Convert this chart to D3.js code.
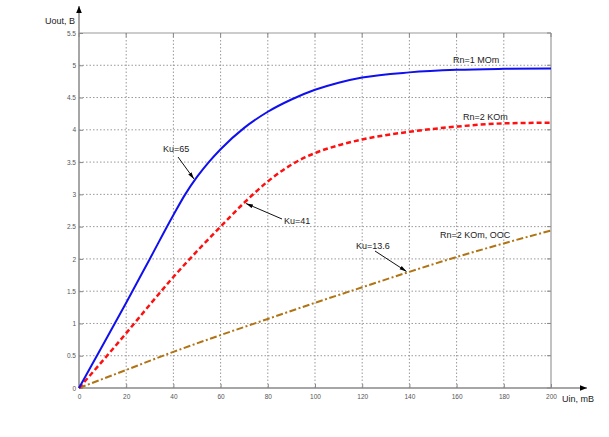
<!DOCTYPE html>
<html><head><meta charset="utf-8">
<script src="https://cdn.jsdelivr.net/npm/d3@7"></script>
<style>body{margin:0;background:#fff;}svg{display:block;font-family:"Liberation Sans",Arial,sans-serif;}</style>
</head><body><svg id="c" width="609" height="437"></svg>
<script>
const xTicks = [0,20,40,60,80,100,120,140,160,180,200];
const yTicks = [0,0.5,1,1.5,2,2.5,3,3.5,4,4.5,5,5.5];
const blueX = [0,10,20,30,40,45,50,55,60,70,80,90,100,110,120,140,160,180,200];
const blueY = [0,0.66,1.32,2.0,2.68,3.0,3.27,3.5,3.7,4.03,4.28,4.47,4.62,4.73,4.81,4.89,4.93,4.945,4.95];
const redX = [0,10,20,30,40,50,60,70,80,90,100,110,120,140,160,180,200];
const redY = [0,0.42,0.85,1.29,1.72,2.12,2.5,2.87,3.2,3.46,3.64,3.76,3.85,3.97,4.05,4.10,4.11];
const brownX = [0,20,40,60,80,100,120,140,160,180,200];
const brownY = [0,0.28,0.56,0.82,1.07,1.32,1.56,1.80,2.03,2.24,2.44];
const labels = ["Rn=1 MOm","Rn=2 KOm","Rn=2 KOm, OOC"];
const kuLabels = ["Ku=65","Ku=41","Ku=13.6"];

const svg = d3.select("#c");
const x = d3.scaleLinear().domain([0,200]).range([79,551]);
const y = d3.scaleLinear().domain([0,5.5]).range([388,33]);

const defs = svg.append("defs");
defs.append("marker").attr("id","ah").attr("viewBox","0 0 10 10")
  .attr("refX",10).attr("refY",5).attr("markerWidth",7).attr("markerHeight",7)
  .attr("markerUnits","userSpaceOnUse").attr("orient","auto")
  .append("path").attr("d","M0,1L10,5L0,9z").attr("fill","#000");
defs.append("marker").attr("id","ah2").attr("viewBox","0 0 10 10")
  .attr("refX",10).attr("refY",5).attr("markerWidth",7).attr("markerHeight",5)
  .attr("markerUnits","userSpaceOnUse").attr("orient","auto").attr("preserveAspectRatio","none")
  .append("path").attr("d","M0,1L10,5L0,9z").attr("fill","#000");

// grid
const g = svg.append("g");
g.selectAll(".gx").data(xTicks.slice(1,-1)).join("line")
  .attr("x1",d=>x(d)).attr("x2",d=>x(d)).attr("y1",y(0)).attr("y2",y(5.5))
  .attr("stroke","#999").attr("stroke-width",1).attr("stroke-dasharray","1.5,2");
g.selectAll(".gy").data(yTicks.slice(1,-1)).join("line")
  .attr("y1",d=>y(d)).attr("y2",d=>y(d)).attr("x1",x(0)).attr("x2",x(200))
  .attr("stroke","#999").attr("stroke-width",1).attr("stroke-dasharray","1.5,2");

// borders
g.append("line").attr("x1",x(0)).attr("x2",x(200)).attr("y1",y(5.5)).attr("y2",y(5.5)).attr("stroke","#999").attr("stroke-width",1.2);
g.append("line").attr("x1",x(200)).attr("x2",x(200)).attr("y1",y(0)).attr("y2",y(5.5)).attr("stroke","#999").attr("stroke-width",1.2);

// axes
const ax = svg.append("g").attr("transform",`translate(0,${y(0)})`)
  .call(d3.axisBottom(x).tickValues(xTicks).tickSize(-4).tickPadding(6));
const ay = svg.append("g").attr("transform",`translate(${x(0)},0)`)
  .call(d3.axisLeft(y).tickValues(yTicks).tickSize(-4).tickPadding(3).tickFormat(d3.format("")));
[ax,ay].forEach(a=>{
  a.select(".domain").remove();
  a.selectAll(".tick line").attr("stroke","#888");
  a.selectAll("text").attr("fill","#555").style("font-size","6.5px");
});
// mirrored ticks
g.selectAll(".rt").data(yTicks).join("line").attr("x1",x(200)).attr("x2",x(200)-4)
  .attr("y1",d=>y(d)).attr("y2",d=>y(d)).attr("stroke","#888");
g.selectAll(".tt").data(xTicks).join("line").attr("y1",y(5.5)).attr("y2",y(5.5)+4)
  .attr("x1",d=>x(d)).attr("x2",d=>x(d)).attr("stroke","#888");

// arrow axes
svg.append("line").attr("x1",x(0)).attr("x2",x(0)).attr("y1",y(0)).attr("y2",6)
  .attr("stroke","#888").attr("stroke-width",1.5).attr("marker-end","url(#ah)");
svg.append("line").attr("x1",x(0)).attr("x2",587).attr("y1",y(0)).attr("y2",y(0))
  .attr("stroke","#888").attr("stroke-width",1.5).attr("marker-end","url(#ah)");

svg.append("text").attr("x",45).attr("y",24).text("Uout, B").style("font-size","9px").attr("fill","#222");
svg.append("text").attr("x",562).attr("y",402).text("Uin, mB").style("font-size","9px").attr("fill","#222");

// curves
const line = d3.line().x(d=>x(d[0])).y(d=>y(d[1])).curve(d3.curveMonotoneX);
const series = [
  {xs:brownX, ys:brownY, color:"#b07414", w:2, dash:"7,2.5,2,2.5"},
  {xs:redX, ys:redY, color:"#ff1010", w:2.5, dash:"5,3"},
  {xs:blueX, ys:blueY, color:"#1010ee", w:2, dash:null}
];
series.forEach(s=>{
  svg.append("path").datum(d3.zip(s.xs,s.ys)).attr("d",line).attr("fill","none")
    .attr("stroke",s.color).attr("stroke-width",s.w).attr("stroke-dasharray",s.dash);
});

// labels
svg.append("text").attr("x",453).attr("y",63).text(labels[0]).style("font-size","9px").attr("fill","#222");
svg.append("text").attr("x",463).attr("y",120).text(labels[1]).style("font-size","9px").attr("fill","#222");
svg.append("text").attr("x",440).attr("y",238).text(labels[2]).style("font-size","9px").attr("fill","#222");

svg.append("text").attr("x",163).attr("y",152).text(kuLabels[0]).style("font-size","9px").attr("fill","#222");
svg.append("text").attr("x",284).attr("y",223.5).text(kuLabels[1]).style("font-size","9px").attr("fill","#222");
svg.append("text").attr("x",356).attr("y",248.5).text(kuLabels[2]).style("font-size","9px").attr("fill","#222");

function arrow(x1,y1,x2,y2){
  svg.append("line").attr("x1",x1).attr("y1",y1).attr("x2",x2).attr("y2",y2)
    .attr("stroke","#111").attr("stroke-width",1).attr("marker-end","url(#ah2)");
}
arrow(178,157,194,179);
arrow(282,219,246,203.5);
arrow(375,251,406.5,271.5);
</script></body></html>
